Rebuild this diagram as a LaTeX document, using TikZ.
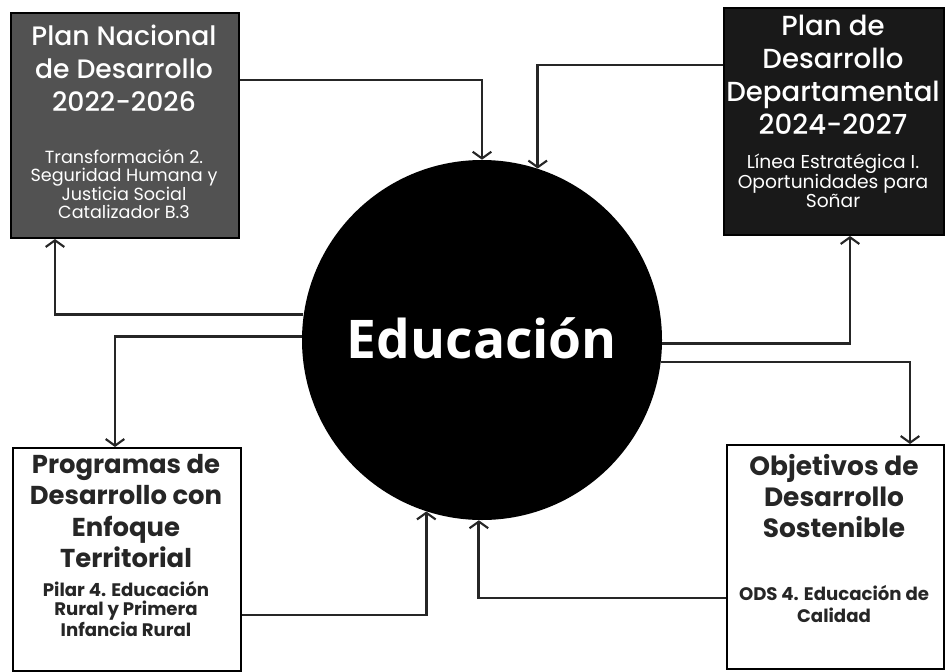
\documentclass[tikz,border=0pt]{standalone}
\usepackage{fontspec}
\setmainfont{Poppins}
\newfontfamily\edufont{Open Sans}
\newfontfamily\mediafont{Poppins}[UprightFont=* Medium]
\usetikzlibrary{arrows.meta,calc}
\colorlet{cajagris}{black!68}
\colorlet{cajanegra}{black!90}
\colorlet{linea}{black!85}

\begin{document}
\begin{tikzpicture}[x=0.75pt,y=-0.75pt,
  caja/.style={draw=black,line width=1.5pt,anchor=north west,inner sep=0pt},
  titulo/.style={align=center,font=\mediafont\fontsize{20}{24.75}\selectfont},
  cuerpo/.style={align=center,font=\fontsize{13.2}{13.8}\selectfont},
  flecha/.style={draw=linea,line width=2.2pt,
    -{Straight Barb[length=5pt,width=14pt,line width=1.6pt]}}]
\useasboundingbox (0,0) rectangle (945,671);
% cajas
\node[caja,fill=cajagris,minimum width=171pt,minimum height=168.75pt] (pnd) at (10,12) {};
\node[caja,fill=cajanegra,minimum width=165pt,minimum height=170.25pt] (pdd) at (723,7) {};
\node[caja,fill=white,minimum width=171pt,minimum height=167.25pt] (pdet) at (12,447) {};
\node[caja,fill=white,minimum width=162.75pt,minimum height=168pt] (ods) at (726,444) {};
% textos
\node[titulo,text=white] (pndt) at (124,68) {Plan Nacional\\de Desarrollo\\2022-2026};
\node[cuerpo,text=white] (pndc) at (124,184) {Transformación 2.\\Seguridad Humana y\\Justicia Social\\Catalizador B.3};
\node[titulo,text=white,font=\mediafont\fontsize{20.7}{24.75}\selectfont] (pddt) at (833,75) {Plan de\\Desarrollo\\Departamental\\2024-2027};
\node[cuerpo,text=white,font=\fontsize{14}{14.5}\selectfont] (pddc) at (833,181) {Línea Estratégica I.\\Oportunidades para\\Soñar};
\node[titulo,text=black!85,font=\bfseries\fontsize{19.4}{23.5}\selectfont] (pdett) at (126,511) {Programas de\\Desarrollo con\\Enfoque\\Territorial};
\node[cuerpo,text=black!85,font=\bfseries\fontsize{13.6}{14.25}\selectfont] (pdetc) at (126,609) {Pilar 4. Educación\\Rural y Primera\\Infancia Rural};
\node[titulo,text=black!85,font=\bfseries\fontsize{19.8}{23.5}\selectfont] (odst) at (834,496) {Objetivos de\\Desarrollo\\Sostenible};
\node[cuerpo,text=black!85,font=\bfseries\fontsize{13.6}{16}\selectfont] (odsc) at (834,604) {ODS 4. Educación de\\Calidad};
% centro
\node[circle,fill=black,minimum size=270pt,inner sep=0pt,text=white,
  font=\edufont\bfseries\fontsize{40}{44}\selectfont] (edu) at (482,340) {\raisebox{3pt}{Educación}};
% conectores
\draw[flecha] ($(pnd.north east)+(0,68)$) -| (edu.90);
\draw[flecha] ($(pdd.north west)+(0,58)$) -| (edu.72.5);
\draw[flecha] (edu.172.7) -| ($(pnd.south west)+(45,0)$);
\draw[flecha] (edu.179.4) -| ($(pdet.north west)+(103,0)$);
\draw[flecha] (edu.-1) -| ($(pdd.south west)+(127,0)$);
\draw[flecha] (edu.-7.3) -| ($(ods.north west)+(184,0)$);
\draw[flecha] ($(pdet.north east)+(0,168)$) -| (edu.252.2);
\draw[flecha] ($(ods.north west)+(0,154)$) -| (edu.269.4);
\end{tikzpicture}
\end{document}
